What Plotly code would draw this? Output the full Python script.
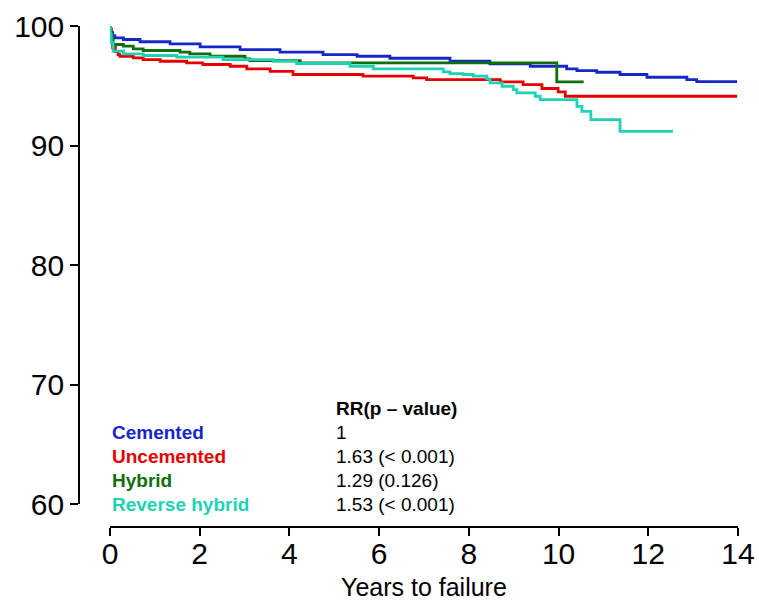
import plotly.graph_objects as go

# Kaplan-Meier style survival (%) by fixation type, years to failure
cemented_t = [0, 0.01, 0.03, 0.06, 0.11, 0.30, 0.67, 1.34, 2.01, 2.90, 3.79, 4.75, 5.51,
              6.24, 7.58, 8.47, 9.37, 10.18, 10.41, 10.85, 11.37, 11.97, 12.86, 13.08, 13.98]
cemented_s = [100, 99.75, 99.45, 99.2, 99.01, 98.87, 98.68, 98.51, 98.26, 98.03, 97.81, 97.61, 97.47,
              97.30, 97.05, 96.83, 96.63, 96.42, 96.27, 96.13, 95.94, 95.71, 95.52, 95.35, 95.35]

uncemented_t = [0, 0.01, 0.03, 0.06, 0.12, 0.18, 0.22, 0.52, 0.74, 1.12, 1.71, 2.07, 2.68, 3.05,
                3.57, 4.08, 5.64, 6.76, 7.06, 8.70, 9.21, 9.63, 9.99, 10.15, 13.98]
uncemented_s = [100, 99.3, 98.7, 98.2, 97.85, 97.61, 97.47, 97.34, 97.19, 97.05, 96.92, 96.78, 96.63, 96.42,
                96.21, 95.94, 95.80, 95.66, 95.52, 95.33, 95.10, 94.77, 94.49, 94.12, 94.12]

hybrid_t = [0, 0.01, 0.03, 0.07, 0.30, 0.52, 0.74, 1.56, 1.78, 2.23, 3.01, 3.12, 4.24, 9.96, 10.56]
hybrid_s = [100, 99.5, 99.0, 98.45, 98.31, 98.09, 97.95, 97.81, 97.67, 97.47, 97.25, 97.11, 96.92, 95.33, 95.33]

reverse_t = [0, 0.01, 0.03, 0.07, 0.30, 0.74, 1.49, 2.52, 3.64, 4.16, 5.35, 5.87, 7.43, 7.58, 7.87,
             8.10, 8.40, 8.47, 8.74, 8.99, 9.07, 9.48, 9.59, 10.41, 10.52, 10.72, 11.37, 12.55]
reverse_s = [100, 99.3, 98.6, 97.9, 97.67, 97.53, 97.39, 97.19, 97.05, 96.86, 96.63, 96.42, 96.16, 96.02, 95.94,
             95.80, 95.58, 95.24, 94.96, 94.68, 94.41, 94.12, 93.84, 93.28, 92.86, 92.17, 91.19, 91.19]

groups = ["Cemented", "Uncemented", "Hybrid", "Reverse hybrid"]
rr_labels = ["1", "1.63 (< 0.001)", "1.29 (0.126)", "1.53 (< 0.001)"]
rr_header = "RR(p \u2013 value)"
colors = ["#1428c8", "#e60000", "#0f6e0f", "#1ed2b4"]
series = [(cemented_t, cemented_s), (uncemented_t, uncemented_s),
          (hybrid_t, hybrid_s), (reverse_t, reverse_s)]

x_ticks = list(range(0, 15, 2))
y_ticks = list(range(60, 101, 10))

FONT = "Liberation Sans, Arial, sans-serif"

fig = go.Figure()
for name, (t, s), c in zip(groups, series, colors):
    fig.add_trace(go.Scatter(x=t, y=s, mode="lines", name=name,
                             line=dict(color=c, width=2.8, shape="hv"),
                             showlegend=False, hoverinfo="skip"))

# legend block with relative risks, placed in data coordinates
legend_y = [66, 64, 62, 60]
for name, rr, c, yv in zip(groups, rr_labels, colors, legend_y):
    fig.add_annotation(x=0, y=yv, xref="x", yref="y", text="<b>%s</b>" % name,
                       showarrow=False, xanchor="left", yanchor="middle",
                       font=dict(family=FONT, size=19, color=c))
    fig.add_annotation(x=5, y=yv, xref="x", yref="y", text=rr,
                       showarrow=False, xanchor="left", yanchor="middle",
                       font=dict(family=FONT, size=19, color="black"))
fig.add_annotation(x=5, y=68, xref="x", yref="y", text="<b>%s</b>" % rr_header,
                   showarrow=False, xanchor="left", yanchor="middle",
                   font=dict(family=FONT, size=19, color="black"))

# x axis title
fig.add_annotation(x=7, y=-0.12, xref="x", yref="paper", text="Years to failure",
                   showarrow=False, xanchor="center", yanchor="middle",
                   font=dict(family=FONT, size=25, color="black"))

axis_common = dict(showgrid=False, zeroline=False, showline=True, linecolor="black",
                   linewidth=1.6, ticks="outside", ticklen=8, tickwidth=1.6,
                   tickcolor="black", tickfont=dict(family=FONT, size=30, color="black"),
                   anchor="free", position=0, automargin=False)

fig.update_layout(
    width=759, height=604,
    margin=dict(l=79, r=21, t=26, b=77),
    plot_bgcolor="white", paper_bgcolor="white",
    xaxis=dict(domain=[0.047, 1], range=[0, 14], tickvals=x_ticks,
               ticklabelstandoff=-8, **axis_common),
    yaxis=dict(domain=[0.0459, 1], range=[60, 100], tickvals=y_ticks, **axis_common),
)

fig.write_html("out.html")
